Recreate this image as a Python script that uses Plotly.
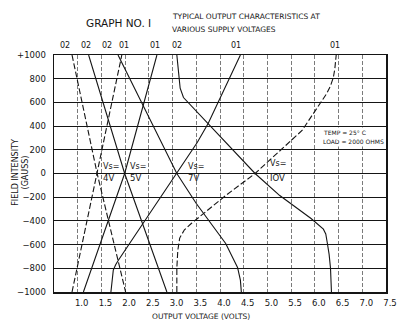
import plotly.graph_objects as go

# ---------------- data ----------------
x_tick_vals = [1.0, 1.5, 2.0, 2.5, 3.0, 3.5, 4.0, 4.5, 5.0, 5.5, 6.0, 6.5, 7.0, 7.5]
x_tick_text = ["1.0", "1.5", "2.0", "2.5", "3.0", "3.5", "4.0", "4.5", "5.0", "5.5", "6.0", "6.5", "7.0", "7.5"]
y_tick_vals = [1000, 800, 600, 400, 200, 0, -200, -400, -600, -800, -1000]
y_tick_text = ["+1000", "800", "600", "400", "200", "0", "\u2212200", "\u2212400", "\u2212600", "\u2212800", "\u22121000"]

# Vs = 4 V
v4_o2_x = [0.88, 1.41, 2.01]
v4_o2_y = [1000, 0, -1000]
v4_o1_x = [0.88, 1.41, 1.93]
v4_o1_y = [-1000, 0, 1000]
# Vs = 5 V
v5_o2_x = [1.23, 1.99, 2.88]
v5_o2_y = [1000, 0, -1000]
v5_o1_x = [1.12, 1.99, 2.67]
v5_o1_y = [-1000, 0, 1000]
# Vs = 7 V
v7_o2_x = [1.85, 2.40, 3.09, 3.50, 4.12, 4.37, 4.41, 4.43, 4.45]
v7_o2_y = [1000, 557, 0, -253, -591, -793, -850, -900, -1000]
v7_o1_x = [1.70, 1.72, 1.75, 1.80, 1.85, 2.39, 3.09, 3.52, 3.75, 4.38, 4.43]
v7_o1_y = [-1000, -900, -815, -770, -736, -413, 0, 262, 422, 954, 1000]
# Vs = 10 V
v10_o2_x = [3.09, 3.11, 3.13, 3.16, 3.23, 3.75, 4.74, 5.26, 5.92, 6.18, 6.23, 6.26, 6.30, 6.33, 6.35]
v10_o2_y = [1000, 900, 806, 720, 641, 422, 0, -186, -380, -470, -510, -580, -680, -800, -1000]
v10_o1_x = [3.09, 3.09, 3.11, 3.15, 3.25, 3.40, 4.12, 4.74, 5.73, 6.25, 6.33, 6.39, 6.42, 6.45]
v10_o1_y = [-1000, -800, -650, -545, -475, -420, -186, 0, 363, 675, 740, 810, 880, 1000]

curve_names = ["4V O2", "4V O1", "5V O2", "5V O1", "7V O2", "7V O1", "10V O2", "10V O1"]
curve_x = [v4_o2_x, v4_o1_x, v5_o2_x, v5_o1_x, v7_o2_x, v7_o1_x, v10_o2_x, v10_o1_x]
curve_y = [v4_o2_y, v4_o1_y, v5_o2_y, v5_o1_y, v7_o2_y, v7_o1_y, v10_o2_y, v10_o1_y]
curve_dashed = [True, True, False, False, False, False, False, True]

# top labels: text and which curve's +1000 end they mark
top_label_text = ["02", "02", "02", "01", "01", "02", "01", "01"]
top_label_curve = ["4V O2", "5V O2", "7V O2", "4V O1", "5V O1", "10V O2", "7V O1", "10V O1"]
top_label_shift = [-7, -3, -11, 2, -2, 0, -4, -1]

vs_labels = ["4V", "5V", "7V", "IOV"]
vs_label_x = [1.50, 2.07, 3.29, 5.01]

INK = "#151515"
FONT = "DejaVu Sans"

# plot area sits at page x 54..394, y 55..292 (body margin removed by post_script)
W, H = 409, 328
ML, MT = 54, 55
MR = W - 394
MB = H - 292

fig = go.Figure()
for name, xs, ys, dashed in zip(curve_names, curve_x, curve_y, curve_dashed):
    fig.add_trace(go.Scatter(
        x=xs, y=ys, mode="lines", name=name, showlegend=False,
        line=dict(color=INK, width=1.1, dash="6px,2.5px" if dashed else "solid"),
        hoverinfo="skip"))

annotations = []
# curve end labels along the top
for txt, cname, sh in zip(top_label_text, top_label_curve, top_label_shift):
    i = curve_names.index(cname)
    xs, ys = curve_x[i], curve_y[i]
    top_x = xs[ys.index(max(ys))]
    annotations.append(dict(x=top_x, y=1.0, xref="x", yref="paper", text=txt,
                            showarrow=False, xanchor="center", yanchor="bottom",
                            xshift=sh, yshift=3, font=dict(size=8, color=INK, family=FONT)))

# Vs labels
for lab, lx in zip(vs_labels, vs_label_x):
    yv = 84 if lab == "IOV" else 59
    annotations.append(dict(x=lx, y=yv, xref="x", yref="y", text="Vs=", showarrow=False,
                            xanchor="left", yanchor="middle",
                            font=dict(size=8, color=INK, family=FONT)))
    annotations.append(dict(x=lx, y=-40, xref="x", yref="y", text=lab, showarrow=False,
                            xanchor="left", yanchor="middle",
                            font=dict(size=8.5, color=INK, family=FONT)))

# conditions box
annotations.append(dict(x=6.12, y=346, xref="x", yref="y", text="TEMP = 25\u00b0 C",
                        showarrow=False, xanchor="left", yanchor="middle", bgcolor="white",
                        font=dict(size=6, color=INK, family=FONT)))
annotations.append(dict(x=6.12, y=270, xref="x", yref="y", text="LOAD = 2000 OHMS",
                        showarrow=False, xanchor="left", yanchor="middle", bgcolor="white",
                        font=dict(size=6, color=INK, family=FONT)))

# titles
annotations.append(dict(x=(120 - 54) / 340, y=1 + (55 - 23) / 237, xref="paper", yref="paper",
                        text="GRAPH NO. I", showarrow=False, xanchor="center", yanchor="middle",
                        font=dict(size=10.5, color=INK, family=FONT)))
annotations.append(dict(x=(173 - 54) / 340, y=1 + (55 - 17) / 237, xref="paper", yref="paper",
                        text="TYPICAL OUTPUT CHARACTERISTICS AT", showarrow=False,
                        xanchor="left", yanchor="middle",
                        font=dict(size=7.5, color=INK, family=FONT)))
annotations.append(dict(x=(173 - 54) / 340, y=1 + (55 - 30) / 237, xref="paper", yref="paper",
                        text="VARIOUS SUPPLY VOLTAGES", showarrow=False,
                        xanchor="left", yanchor="middle",
                        font=dict(size=7.5, color=INK, family=FONT)))
# axis titles
annotations.append(dict(x=(205 - 54) / 340, y=(292 - 316) / 237, xref="paper", yref="paper",
                        text="OUTPUT VOLTAGE (VOLTS)", showarrow=False,
                        xanchor="center", yanchor="middle",
                        font=dict(size=7.5, color=INK, family=FONT)))
annotations.append(dict(x=(19 - 54) / 340, y=(292 - 172) / 237, xref="paper", yref="paper",
                        text="FIELD INTENSITY<br>(GAUSS)", showarrow=False, textangle=-90,
                        xanchor="center", yanchor="middle",
                        font=dict(size=8, color=INK, family=FONT)))

fig.update_layout(
    width=W, height=H,
    margin=dict(l=ML, r=MR, t=MT, b=MB, pad=0),
    paper_bgcolor="white", plot_bgcolor="white",
    annotations=annotations,
    font=dict(family=FONT, color=INK),
)
fig.update_xaxes(
    range=[0.5, 7.5], tickvals=x_tick_vals, ticktext=x_tick_text,
    showgrid=True, gridcolor="#5a5a5a", gridwidth=0.8, griddash="4px,2px",
    showline=True, mirror=True, linecolor=INK, linewidth=1.5,
    ticks="", zeroline=False, ticklabelshift=4, ticklabelstandoff=2,
    ticklabeloverflow="allow",
    tickfont=dict(size=8.5, color=INK, family=FONT), fixedrange=True)
fig.update_yaxes(
    range=[-1000, 1000], tickvals=y_tick_vals, ticktext=y_tick_text,
    showgrid=True, gridcolor=INK, gridwidth=1.1,
    showline=True, mirror=True, linecolor=INK, linewidth=1.5,
    ticks="", zeroline=False, ticklabelstandoff=5,
    tickfont=dict(size=8.5, color=INK, family=FONT), fixedrange=True)

fig.write_html(
    "out.html",
    config={"displayModeBar": False, "staticPlot": True},
    post_script="document.body.style.margin='0';document.body.style.overflow='hidden';",
)
